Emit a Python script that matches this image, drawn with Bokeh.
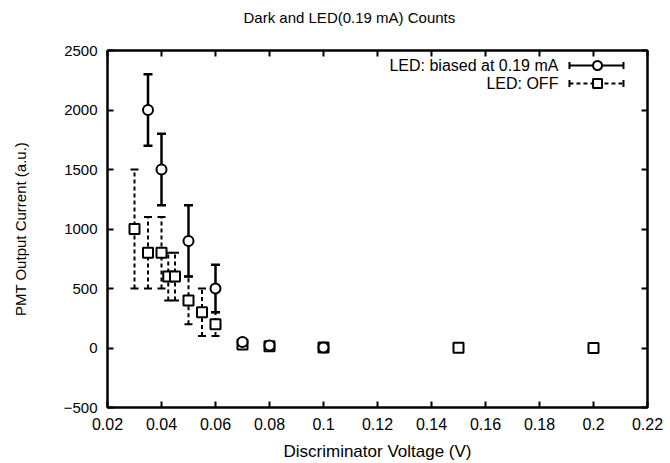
from bokeh.plotting import figure
from bokeh.layouts import column
from bokeh.models import (ColumnDataSource, Whisker, TeeHead, LinearAxis, FixedTicker, Range1d)
from bokeh.core.properties import value
from bokeh.embed import file_html
from bokeh.resources import INLINE

# ---- data ----
led_x = [0.035, 0.04, 0.05, 0.06, 0.07, 0.08, 0.1]
led_y = [2000, 1500, 900, 500, 50, 20, 5]
led_err = [300, 300, 300, 200, 20, 10, 5]

off_x = [0.03, 0.035, 0.04, 0.0425, 0.045, 0.05, 0.055, 0.06, 0.07, 0.08, 0.1, 0.15, 0.2]
off_y = [1000, 800, 800, 600, 600, 400, 300, 200, 30, 15, 5, 2, 0]
off_err = [500, 300, 300, 200, 200, 200, 200, 100, 20, 10, 5, 2, 2]

x_ticks = [0.02, 0.04, 0.06, 0.08, 0.1, 0.12, 0.14, 0.16, 0.18, 0.2, 0.22]
x_tick_labels = ["0.02", "0.04", "0.06", "0.08", "0.1", "0.12", "0.14", "0.16", "0.18", "0.2", "0.22"]
y_ticks = [-500, 0, 500, 1000, 1500, 2000, 2500]

title_text = "Dark and LED(0.19 mA) Counts"
x_label = "Discriminator Voltage (V)"
y_label = "PMT Output Current (a.u.)"
legend_labels = ["LED: biased at 0.19 mA", "LED: OFF"]

FONT = "Liberation Sans"
W = 670
HEAD_H = 34
LEFT = 107
RIGHT = 23

# ---- title strip (a small figure whose units are canvas pixels; its frame is aligned with the plot's) ----
head = figure(width=W, height=HEAD_H, output_backend="svg", toolbar_location=None,
              x_range=Range1d(LEFT, W - RIGHT), y_range=Range1d(0, HEAD_H),
              x_axis_type=None, y_axis_type=None,
              min_border=0, min_border_left=LEFT, min_border_right=RIGHT,
              outline_line_color=None)
head.grid.visible = False
head.text(x=[243], y=[17], text=[title_text], text_align="left", text_baseline="middle",
          text_font=value(FONT), text_font_size="15px", text_color="black")

# ---- main plot ----
p = figure(width=W, height=463 - HEAD_H, output_backend="svg", toolbar_location=None,
           x_range=Range1d(0.02, 0.22), y_range=Range1d(-500, 2500),
           min_border_left=LEFT, min_border_right=RIGHT, min_border_top=16, min_border_bottom=56)

p.xgrid.visible = False
p.ygrid.visible = False
p.outline_line_color = "black"
p.outline_line_width = 2
p.outline_line_alpha = 1

overrides = {t: l for t, l in zip(x_ticks, x_tick_labels)}

for ax in p.xaxis:
    ax.ticker = FixedTicker(ticks=x_ticks)
    ax.major_label_overrides = overrides
for ax in p.yaxis:
    ax.ticker = FixedTicker(ticks=y_ticks)

def style_axis(ax, show_labels, tick_size="15px", label_size="15px"):
    ax.axis_line_width = 2
    ax.axis_line_color = "black"
    ax.major_tick_in = 6
    ax.major_tick_out = 0
    ax.major_tick_line_width = 2
    ax.minor_tick_line_color = None
    ax.major_label_text_font = FONT
    ax.major_label_text_font_size = tick_size
    ax.major_label_text_color = "black" if show_labels else None
    ax.axis_label_text_font = FONT
    ax.axis_label_text_font_size = label_size
    ax.axis_label_text_font_style = "normal"
    ax.axis_label_text_color = "black"

xa = p.xaxis[0]
ya = p.yaxis[0]
style_axis(xa, True, "16px", "17px")
style_axis(ya, True, "15px", "15px")
xa.axis_label = x_label
ya.axis_label = y_label
xa.major_label_standoff = 10
xa.axis_label_standoff = 9
ya.major_label_standoff = 10
ya.axis_label_standoff = 32

top = LinearAxis(ticker=FixedTicker(ticks=x_ticks))
right = LinearAxis(ticker=FixedTicker(ticks=y_ticks))
style_axis(top, False)
style_axis(right, False)
top.major_label_standoff = 0
right.major_label_standoff = 0
p.add_layout(top, "above")
p.add_layout(right, "right")

led_src = ColumnDataSource(dict(x=led_x, y=led_y,
                                lo=[a - b for a, b in zip(led_y, led_err)],
                                hi=[a + b for a, b in zip(led_y, led_err)]))
off_src = ColumnDataSource(dict(x=off_x, y=off_y,
                                lo=[a - b for a, b in zip(off_y, off_err)],
                                hi=[a + b for a, b in zip(off_y, off_err)]))

w_off = Whisker(source=off_src, base="x", lower="lo", upper="hi",
                line_color="black", line_width=2, line_dash="4 3",
                upper_head=TeeHead(size=8, line_width=2, line_color="black"),
                lower_head=TeeHead(size=8, line_width=2, line_color="black"))
p.add_layout(w_off)
w_led = Whisker(source=led_src, base="x", lower="lo", upper="hi",
                line_color="black", line_width=2.5,
                upper_head=TeeHead(size=9, line_width=2.5, line_color="black"),
                lower_head=TeeHead(size=9, line_width=2.5, line_color="black"))
p.add_layout(w_led)

p.scatter("x", "y", source=off_src, marker="square", size=10, fill_color="white",
          line_color="black", line_width=2)
p.scatter("x", "y", source=led_src, marker="circle", size=10, fill_color="white",
          line_color="black", line_width=2)

# ---- legend (drawn manually: label left, sample right) ----
leg_text_x = 0.187
leg_y = [2374, 2223]
leg_lo = 0.1911
leg_hi = 0.2111
leg_mid = 0.2015
p.text(x=[leg_text_x, leg_text_x], y=leg_y, text=legend_labels,
       text_align="right", text_baseline="middle",
       text_font=value(FONT), text_font_size="16px", text_color="black")

leg1 = ColumnDataSource(dict(y=[leg_y[0]], lo=[leg_lo], hi=[leg_hi]))
leg2 = ColumnDataSource(dict(y=[leg_y[1]], lo=[leg_lo], hi=[leg_hi]))
p.add_layout(Whisker(source=leg1, base="y", lower="lo", upper="hi", dimension="width",
                     line_color="black", line_width=2,
                     upper_head=TeeHead(size=7, line_width=2, line_color="black"),
                     lower_head=TeeHead(size=7, line_width=2, line_color="black")))
p.add_layout(Whisker(source=leg2, base="y", lower="lo", upper="hi", dimension="width",
                     line_color="black", line_width=2, line_dash="4 3",
                     upper_head=TeeHead(size=7, line_width=2, line_color="black"),
                     lower_head=TeeHead(size=7, line_width=2, line_color="black")))
p.scatter(x=[leg_mid], y=[leg_y[0]], marker="circle", size=9, fill_color="white",
          line_color="black", line_width=2)
p.scatter(x=[leg_mid], y=[leg_y[1]], marker="square", size=9, fill_color="white",
          line_color="black", line_width=2)

layout = column(head, p, spacing=0)
open("out.html", "w").write(file_html(layout, INLINE))
